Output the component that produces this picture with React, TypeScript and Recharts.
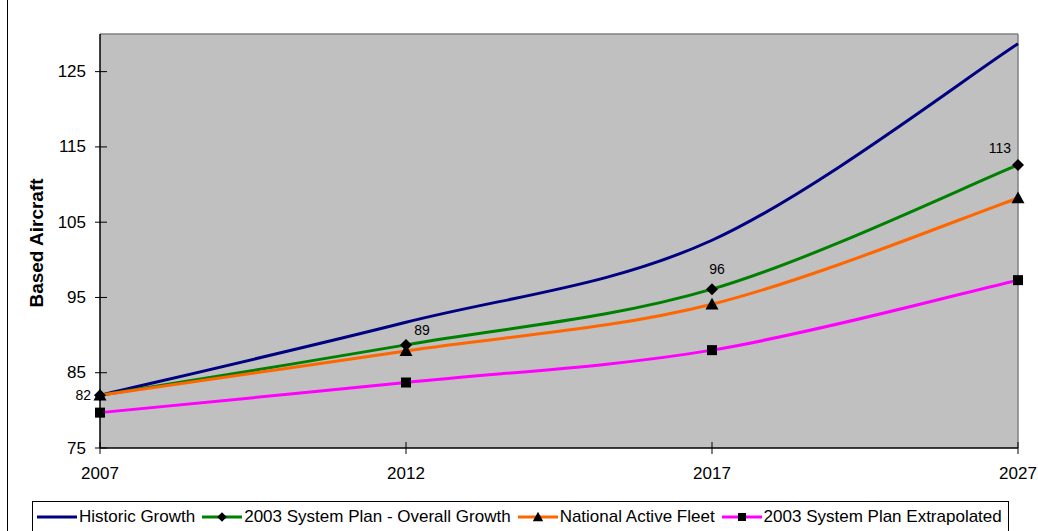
import React from "react";
import { LineChart, Line, XAxis, YAxis, CartesianGrid, Legend, LabelList, ReferenceLine } from "recharts";

const years = ["2007", "2012", "2017", "2027"];
const historicGrowth = [82, 91.7, 102.6, 128.7];
const overallGrowth = [82, 88.7, 96.1, 112.6];
const nationalFleet = [82, 87.9, 94.1, 108.2];
const extrapolated = [79.7, 83.7, 88.0, 97.3];
const yTicks = [75, 85, 95, 105, 115, 125];

const data = years.map((year, i) => ({
  year,
  historic: historicGrowth[i],
  overall: overallGrowth[i],
  national: nationalFleet[i],
  extrapolated: extrapolated[i],
}));

const FONT = '"Liberation Sans", Arial, sans-serif';

const series = [
  { key: "historic", name: "Historic Growth", color: "#000080", marker: "none" },
  { key: "overall", name: "2003 System Plan - Overall Growth", color: "#008000", marker: "diamond" },
  { key: "national", name: "National Active Fleet", color: "#FF6600", marker: "triangle" },
  { key: "extrapolated", name: "2003 System Plan Extrapolated", color: "#FF00FF", marker: "square" },
];

// excel-like smoothed line (bezier with catmull-rom tangents)
const excelCurve = (context: any) => {
  let pts: number[][] = [];
  return {
    areaStart() {},
    areaEnd() {},
    lineStart() {
      pts = [];
    },
    point(x: number, y: number) {
      pts.push([+x, +y]);
    },
    lineEnd() {
      if (!pts.length) return;
      context.moveTo(pts[0][0], pts[0][1]);
      for (let i = 0; i < pts.length - 1; i++) {
        const p0 = pts[i - 1] || pts[i];
        const p1 = pts[i];
        const p2 = pts[i + 1];
        const p3 = pts[i + 2] || p2;
        context.bezierCurveTo(
          p1[0] + (p2[0] - p0[0]) / 6,
          p1[1] + (p2[1] - p0[1]) / 6,
          p2[0] - (p3[0] - p1[0]) / 6,
          p2[1] - (p3[1] - p1[1]) / 6,
          p2[0],
          p2[1]
        );
      }
    },
  };
};

function Marker({ type, cx, cy, s = 1 }: { type: string; cx: number; cy: number; s?: number }) {
  if (type === "diamond") {
    const r = 6 * s;
    return <polygon points={`${cx},${cy - r} ${cx + r},${cy} ${cx},${cy + r} ${cx - r},${cy}`} fill="#000" />;
  }
  if (type === "triangle") {
    const r = 6.5 * s;
    return <polygon points={`${cx},${cy - r} ${cx + r},${cy + r * 0.8} ${cx - r},${cy + r * 0.8}`} fill="#000" />;
  }
  if (type === "square") {
    const r = 5 * s;
    return <rect x={cx - r} y={cy - r} width={r * 2} height={r * 2} fill="#000" />;
  }
  return null;
}

// label placement for the overall growth labels
const labelOffsets = [
  { dx: -9, dy: 0, anchor: "end" },
  { dx: 16, dy: -15, anchor: "middle" },
  { dx: 5, dy: -20, anchor: "middle" },
  { dx: -18, dy: -17, anchor: "middle" },
];

const renderValueLabel = (props: any) => {
  const { x, y, value, index } = props;
  const o = labelOffsets[index] || labelOffsets[1];
  return (
    <text
      x={x + o.dx}
      y={y + o.dy}
      textAnchor={o.anchor}
      dominantBaseline="central"
      fontFamily={FONT}
      fontSize={14}
      fill="#000"
    >
      {Math.round(value)}
    </text>
  );
};

const renderYTick = (props: any) => {
  const { x, y, payload } = props;
  return (
    <g>
      <line x1={x - 5} x2={x + 7} y1={y} y2={y} stroke="#000" />
      <text x={x - 14} y={y} textAnchor="end" dominantBaseline="central" fontFamily={FONT} fontSize={17} fill="#000">
        {payload.value}
      </text>
    </g>
  );
};

const renderXTick = (props: any) => {
  const { x, y, payload } = props;
  return (
    <g>
      <line x1={x} x2={x} y1={y - 6} y2={y + 6} stroke="#000" />
      <text x={x} y={y + 25} textAnchor="middle" dominantBaseline="central" fontFamily={FONT} fontSize={17} fill="#000">
        {payload.value}
      </text>
    </g>
  );
};

const renderLegend = () => (
  <div
    style={{
      border: "1px solid #000",
      boxSizing: "border-box",
      height: 32,
      display: "flex",
      alignItems: "center",
      paddingLeft: 4,
      fontFamily: FONT,
      fontSize: 17,
      color: "#000",
      background: "#fff",
      whiteSpace: "nowrap",
    }}
  >
    {series.map((s) => (
      <div key={s.key} style={{ display: "flex", alignItems: "center", marginRight: 7 }}>
        <svg width={40} height={14}>
          <line x1={0} x2={40} y1={7} y2={7} stroke={s.color} strokeWidth={3} />
          <Marker type={s.marker} cx={20} cy={7} s={0.8} />
        </svg>
        <span style={{ marginLeft: 2 }}>{s.name}</span>
      </div>
    ))}
  </div>
);

export default function App() {
  return (
    <div style={{ position: "relative", width: 1038, height: 531, overflow: "hidden", background: "#fff" }}>
      <style>{"body{margin:0}"}</style>
      <div style={{ position: "absolute", left: 7, top: 0, width: 1, height: 531, background: "#000" }} />
      <LineChart width={1038} height={531} data={data} margin={{ top: 34, right: 20, bottom: 53, left: 0 }}>
        <CartesianGrid fill="#C0C0C0" stroke="none" horizontal={false} vertical={false} />
        <ReferenceLine y={130} stroke="#808080" strokeWidth={1.5} />
        <ReferenceLine x="2027" stroke="#808080" strokeWidth={1.5} />
        <XAxis
          dataKey="year"
          height={30}
          axisLine={{ stroke: "#000", strokeWidth: 1.5 }}
          tickLine={false}
          tickSize={0}
          tickMargin={0}
          tick={renderXTick}
          interval={0}
        />
        <YAxis
          type="number"
          domain={[75, 130]}
          ticks={yTicks}
          width={100}
          axisLine={{ stroke: "#000", strokeWidth: 1.5 }}
          tickLine={false}
          tickSize={0}
          tickMargin={0}
          tick={renderYTick}
          label={(p: any) => {
            const vb = p.viewBox || { y: 34, height: 414 };
            const cy = vb.y + vb.height / 2 + 2;
            return (
              <text
                x={36}
                y={cy}
                transform={`rotate(-90, 36, ${cy})`}
                textAnchor="middle"
                dominantBaseline="central"
                fontFamily={FONT}
                fontSize={19}
                fontWeight="bold"
                fill="#000"
              >
                Based Aircraft
              </text>
            );
          }}
        />
        <Legend
          layout="horizontal"
          verticalAlign="middle"
          align="center"
          content={renderLegend}
          wrapperStyle={{ top: 501, left: 32, width: 977, height: 32 }}
        />
        {series.map((s) => (
          <Line
            key={s.key}
            dataKey={s.key}
            name={s.name}
            type={excelCurve as any}
            stroke={s.color}
            strokeWidth={3}
            isAnimationActive={false}
            activeDot={false}
            dot={(p: any) => <Marker key={`${s.key}-${p.index}`} type={s.marker} cx={p.cx} cy={p.cy} />}
          >
            {s.key === "overall" && <LabelList dataKey="overall" content={renderValueLabel} />}
          </Line>
        ))}
      </LineChart>
    </div>
  );
}
